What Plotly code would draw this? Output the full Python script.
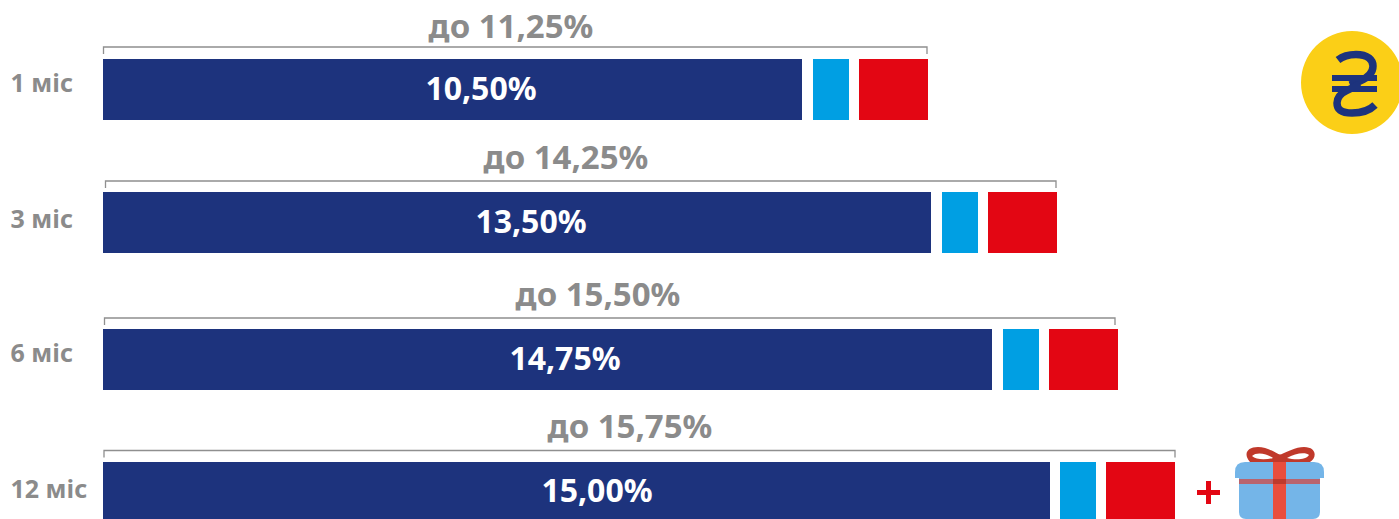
import plotly.graph_objects as go

# ---- data ----
months = ["1 міс", "3 міс", "6 міс", "12 міс"]
base_rates = ["10,50%", "13,50%", "14,75%", "15,00%"]
max_rates = ["до 11,25%", "до 14,25%", "до 15,50%", "до 15,75%"]
navy_len = [699, 828, 889, 947]
blue_len = [36, 36, 36, 36]
red_len = [69, 69, 69, 69]

# ---- layout helpers ----
W, H = 1399, 519
left = 103
gap1 = [11, 11, 11, 10]
gap2 = [10, 10, 10, 10]
row_y = [89.5, 222.5, 359.5, 492.5]
bar_h = 61
NAVY, BLUE, RED, GREY = "#1d337d", "#009fe3", "#e30613", "#8b8b8b"
FONT = "Noto Sans"

fig = go.Figure()
def seg(vals, color):
    fig.add_trace(go.Bar(y=row_y, x=vals, orientation="h", width=bar_h,
                         marker=dict(color=color, line_width=0),
                         base=None, hoverinfo="skip", showlegend=False))
fig.add_trace(go.Bar(y=row_y, x=[left]*4, orientation="h", width=bar_h,
                     marker=dict(color="rgba(0,0,0,0)", line_width=0),
                     hoverinfo="skip", showlegend=False))
seg(navy_len, NAVY)
fig.add_trace(go.Bar(y=row_y, x=gap1, orientation="h", width=bar_h,
                     marker=dict(color="rgba(0,0,0,0)", line_width=0),
                     hoverinfo="skip", showlegend=False))
seg(blue_len, BLUE)
fig.add_trace(go.Bar(y=row_y, x=gap2, orientation="h", width=bar_h,
                     marker=dict(color="rgba(0,0,0,0)", line_width=0),
                     hoverinfo="skip", showlegend=False))
seg(red_len, RED)

def text(xs, ys, labels, size, color, pos="middle center"):
    fig.add_trace(go.Scatter(x=xs, y=ys, text=labels, mode="text", textposition=pos,
                             textfont=dict(family=FONT, size=size, color=color, weight="bold"),
                             hoverinfo="skip", showlegend=False, cliponaxis=False))

# rate labels
text([481, 531, 565, 597], [92, 225, 362, 494], base_rates, 32, "white")
text([511, 566, 598, 630], [29.5, 160.5, 297.5, 429.5], max_rates, 33, GREY)
text([10.5, 10.5, 10.5, 10.5], [86, 222, 356, 492], months, 25, GREY, "middle right")

# brackets
br = [(103.5, 927, 47), (105.5, 1056, 181), (104.5, 1115, 318), (104, 1175, 450.5)]
for x0, x1, y in br:
    fig.add_trace(go.Scatter(x=[x0, x0, x1, x1], y=[y+7, y, y, y+7], mode="lines",
                             line=dict(color="#8f8f8f", width=1.3),
                             hoverinfo="skip", showlegend=False))

# coin
shapes = [dict(type="circle", x0=1301, x1=1403, y0=31, y1=134, fillcolor="#fbcf17", line_width=0, layer="below")]

# hryvnia sign strokes
hr = NAVY
shapes += [
    dict(type="path", path="M 1338 60 C 1343 56, 1350 54.5, 1356 54.5 C 1368 54.5, 1373 60, 1373 66 C 1373 74, 1367 78, 1360 81 L 1350 85",
         line=dict(color=hr, width=7.5), fillcolor="rgba(0,0,0,0)"),
    dict(type="path", path="M 1360 84 L 1346 91 C 1340 94, 1337 98, 1337 103 C 1337 110, 1342 113, 1352 113 C 1361 113, 1369 111, 1375 105",
         line=dict(color=hr, width=7.5), fillcolor="rgba(0,0,0,0)"),
    dict(type="rect", x0=1332, x1=1377, y0=75, y1=81, fillcolor=hr, line_width=0),
    dict(type="rect", x0=1332, x1=1377, y0=86, y1=92, fillcolor=hr, line_width=0),
]

# gift
LID, BAND, RIB, RIBD, BOW = "#74b5e8", "#b9646e", "#e94e3d", "#bf3a2c", "#c0392b"
shapes += [
    dict(type="path", path="M 1250 462 C 1243 454, 1247 447, 1258 447 C 1266 447, 1275 452, 1280 455 C 1286 452, 1296 447, 1304 447 C 1317 447, 1317 458, 1310 462 Z",
         fillcolor=BOW, line_width=0),
    dict(type="path", path="M 1252 456 C 1256 452, 1266 453, 1273 458 C 1266 460, 1256 460, 1252 456 Z", fillcolor="white", line_width=0),
    dict(type="path", path="M 1287 458 C 1295 453, 1306 452, 1309 455 C 1306 460, 1295 460, 1287 458 Z", fillcolor="white", line_width=0),
    dict(type="path", path="M 1245 462 L 1314 462 Q 1324 462 1324 472 L 1324 478 L 1235 478 L 1235 472 Q 1235 462 1245 462 Z", fillcolor=LID, line_width=0),
    dict(type="path", path="M 1239 478 L 1320 478 L 1320 512 Q 1320 519 1313 519 L 1246 519 Q 1239 519 1239 512 Z", fillcolor=LID, line_width=0),
    dict(type="rect", x0=1239, x1=1320, y0=479, y1=484, fillcolor=BAND, line_width=0),
    dict(type="rect", x0=1273, x1=1286, y0=462, y1=519, fillcolor=RIB, line_width=0),
    dict(type="rect", x0=1273, x1=1286, y0=479, y1=484, fillcolor=RIBD, line_width=0),
    dict(type="path", path="M 1273 462 C 1273 452, 1286 452, 1286 462 Z", fillcolor=BOW, line_width=0),
    dict(type="rect", x0=1197, x1=1220, y0=490, y1=495, fillcolor=RED, line_width=0),
    dict(type="rect", x0=1206, x1=1211, y0=481, y1=504, fillcolor=RED, line_width=0),
]

fig.update_layout(
    width=W, height=H, margin=dict(l=0, r=0, t=0, b=0),
    paper_bgcolor="white", plot_bgcolor="white", barmode="stack", bargap=0,
    xaxis=dict(range=[0, W], visible=False, fixedrange=True),
    yaxis=dict(range=[H, 0], visible=False, fixedrange=True),
    shapes=shapes, showlegend=False,
)
fig.write_html("out.html", config=dict(displayModeBar=False),
               post_script="document.body.style.margin='0';document.body.style.overflow='hidden';")
